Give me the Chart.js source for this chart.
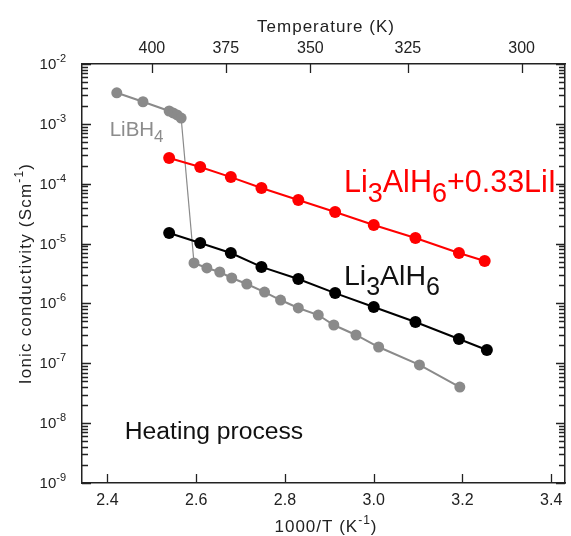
<!DOCTYPE html>
<html>
<head>
<meta charset="utf-8">
<script src="https://cdn.jsdelivr.net/npm/chart.js@4/dist/chart.umd.min.js"></script>
<style>
  html, body { margin: 0; padding: 0; background: #fff; }
  #wrap { width: 571px; height: 536px; }
</style>
</head>
<body>
<div id="wrap"><canvas id="myChart" width="571" height="536"></canvas></div>
<script>
// data (x = 1000/T, y = conductivity in S/cm)
var invT_LiI = [2.539, 2.609, 2.678, 2.747, 2.830, 2.913, 3.000, 3.094, 3.192, 3.250];
var sigma_LiI = [2.69e-4, 1.90e-4, 1.29e-4, 8.5e-5, 5.35e-5, 3.37e-5, 2.04e-5, 1.24e-5, 6.96e-6, 5.1e-6];

var invT_Li3AlH6 = [2.539, 2.609, 2.678, 2.747, 2.830, 2.913, 3.000, 3.094, 3.192, 3.255];
var sigma_Li3AlH6 = [1.50e-5, 1.02e-5, 6.96e-6, 4.07e-6, 2.56e-6, 1.49e-6, 8.7e-7, 4.9e-7, 2.55e-7, 1.67e-7];

var invT_LiBH4 = [2.421, 2.480, 2.539, 2.548, 2.557, 2.566, 2.595, 2.624, 2.653, 2.680, 2.714,
                  2.754, 2.790, 2.830, 2.875, 2.910, 2.960, 3.011, 3.103, 3.194];
var sigma_LiBH4 = [3.3e-3, 2.34e-3, 1.64e-3, 1.52e-3, 1.41e-3, 1.25e-3, 4.74e-6, 3.91e-6, 3.35e-6,
                   2.66e-6, 2.11e-6, 1.55e-6, 1.14e-6, 8.4e-7, 6.4e-7, 4.36e-7, 2.97e-7, 1.87e-7,
                   9.4e-8, 4.0e-8];

var xTicks = [2.4, 2.6, 2.8, 3.0, 3.2, 3.4];
var tempTicks = [400, 375, 350, 325, 300];
var yExponents = [-9, -8, -7, -6, -5, -4, -3, -2];

var X_MIN = 2.3426, X_MAX = 3.431;
var Y_MIN = 1e-9, Y_MAX = 1e-2;
var FONT = '"Liberation Sans", Arial, Helvetica, sans-serif';

function toPoints(xs, ys) {
    return xs.map(function (x, i) { return { x: x, y: ys[i] }; });
}

// draws a run of text pieces, each with its own size and vertical shift
function drawRich(ctx, parts, x, y, align, spacing) {
    ctx.letterSpacing = (spacing || 0) + 'px';
    var total = 0;
    parts.forEach(function (p) {
        ctx.font = p.size + 'px ' + FONT;
        p.w = ctx.measureText(p.t).width;
        total += p.w;
    });
    var cx = align === 'right' ? x - total : (align === 'center' ? x - total / 2 : x);
    ctx.textAlign = 'left';
    parts.forEach(function (p) {
        ctx.font = p.size + 'px ' + FONT;
        ctx.fillText(p.t, cx, y + (p.dy || 0));
        cx += p.w;
    });
    ctx.letterSpacing = '0px';
}

var decorPlugin = {
    id: 'decor',
    afterDraw: function (chart) {
        var ctx = chart.ctx;
        var a = chart.chartArea;
        var xs = chart.scales.x, ys = chart.scales.y;
        ctx.save();
        ctx.strokeStyle = '#222';
        ctx.lineWidth = 1.3;
        ctx.beginPath();
        // bottom ticks
        xTicks.forEach(function (v) {
            var px = Math.round(xs.getPixelForValue(v)) + 0.5;
            ctx.moveTo(px, a.bottom); ctx.lineTo(px, a.bottom - 9);
        });
        // top ticks at temperatures
        tempTicks.forEach(function (T) {
            var px = Math.round(xs.getPixelForValue(1000 / T)) + 0.5;
            ctx.moveTo(px, a.top); ctx.lineTo(px, a.top + 9);
        });
        // left and right log ticks
        for (var d = -9; d <= -2; d++) {
            for (var m = 1; m <= 9; m++) {
                if (d === -2 && m > 1) break;
                var py = Math.round(ys.getPixelForValue(m * Math.pow(10, d))) + 0.5;
                var len = m === 1 ? 9 : 6;
                ctx.moveTo(a.left, py); ctx.lineTo(a.left + len, py);
                ctx.moveTo(a.right, py); ctx.lineTo(a.right - len, py);
            }
        }
        ctx.stroke();

        // y tick labels 10^n
        ctx.fillStyle = '#222';
        ctx.textBaseline = 'alphabetic';
        yExponents.forEach(function (e) {
            var py = ys.getPixelForValue(Math.pow(10, e));
            drawRich(ctx, [
                { t: '10', size: 15 },
                { t: '-' + Math.abs(e), size: 11, dy: -7 }
            ], 66, py + 5, 'right');
        });

        // axis titles with superscripts
        drawRich(ctx, [
            { t: 'Temperature (K)', size: 17 }
        ], 326, 32, 'center', 1);

        drawRich(ctx, [
            { t: '1000/T (K', size: 17 },
            { t: '-1', size: 12, dy: -8 },
            { t: ')', size: 17 }
        ], 326, 532, 'center', 1);

        ctx.save();
        ctx.translate(31, (a.top + a.bottom) / 2);
        ctx.rotate(-Math.PI / 2);
        drawRich(ctx, [
            { t: 'Ionic conductivity (Scm', size: 17 },
            { t: '-1', size: 12, dy: -8 },
            { t: ')', size: 17 }
        ], 0, 0, 'center', 1.2);
        ctx.restore();

        // series labels
        ctx.fillStyle = '#8c8c8c';
        drawRich(ctx, [
            { t: 'LiBH', size: 20.5 },
            { t: '4', size: 17, dy: 6 }
        ], xs.getPixelForValue(2.405), ys.getPixelForValue(Math.pow(10, -3.203)), 'left');

        ctx.fillStyle = '#ff0000';
        drawRich(ctx, [
            { t: 'Li', size: 30.5 },
            { t: '3', size: 27, dy: 10 },
            { t: 'AlH', size: 30.5 },
            { t: '6', size: 27, dy: 10 },
            { t: '+0.33LiI', size: 30.5 }
        ], xs.getPixelForValue(2.933), ys.getPixelForValue(Math.pow(10, -4.138)), 'left');

        ctx.fillStyle = '#111';
        drawRich(ctx, [
            { t: 'Li', size: 28.5 },
            { t: '3', size: 25, dy: 10 },
            { t: 'AlH', size: 28.5 },
            { t: '6', size: 25, dy: 10 }
        ], xs.getPixelForValue(2.933), ys.getPixelForValue(Math.pow(10, -5.692)), 'left');

        drawRich(ctx, [
            { t: 'Heating process', size: 24.7 }
        ], xs.getPixelForValue(2.439), ys.getPixelForValue(Math.pow(10, -8.265)), 'left');

        ctx.restore();
    }
};

var ctx = document.getElementById('myChart').getContext('2d');
var myChart = new Chart(ctx, {
    type: 'scatter',
    data: {
        datasets: [
            {
                label: 'Li3AlH6+0.33LiI',
                data: toPoints(invT_LiI, sigma_LiI),
                showLine: true,
                borderColor: '#ff0000',
                backgroundColor: '#ff0000',
                borderWidth: 2,
                pointRadius: 6,
                pointBorderWidth: 0
            },
            {
                label: 'Li3AlH6',
                data: toPoints(invT_Li3AlH6, sigma_Li3AlH6),
                showLine: true,
                borderColor: '#000000',
                backgroundColor: '#000000',
                borderWidth: 2,
                pointRadius: 6,
                pointBorderWidth: 0
            },
            {
                label: 'LiBH4',
                data: toPoints(invT_LiBH4, sigma_LiBH4),
                showLine: true,
                borderColor: '#8a8a8a',
                backgroundColor: '#8a8a8a',
                borderWidth: 2,
                pointRadius: 5.5,
                pointBorderWidth: 0,
                segment: {
                    // the jump at the phase transition is drawn thinner
                    borderWidth: function (c) {
                        return c.p0.parsed.y / c.p1.parsed.y > 10 ? 1.2 : 2;
                    }
                }
            }
        ]
    },
    plugins: [decorPlugin],
    options: {
        responsive: false,
        animation: false,
        clip: false,
        layout: { padding: 0 },
        plugins: {
            legend: { display: false },
            tooltip: { enabled: false }
        },
        scales: {
            x: {
                type: 'linear',
                position: 'bottom',
                min: X_MIN,
                max: X_MAX,
                afterBuildTicks: function (scale) {
                    scale.ticks = xTicks.map(function (v) { return { value: v }; });
                },
                afterFit: function (scale) { scale.height = 53; },
                grid: { display: false, drawTicks: false },
                border: { display: true, color: '#222', width: 1.5 },
                ticks: {
                    autoSkip: false,
                    maxRotation: 0,
                    padding: 8,
                    color: '#222',
                    font: { family: FONT, size: 16 },
                    callback: function (v) { return Number(v).toFixed(1); }
                }
            },
            x2: {
                type: 'linear',
                position: 'top',
                min: X_MIN,
                max: X_MAX,
                afterBuildTicks: function (scale) {
                    scale.ticks = tempTicks.map(function (T) { return { value: 1000 / T }; });
                },
                afterFit: function (scale) { scale.height = 64; },
                grid: { display: false, drawTicks: false },
                border: { display: true, color: '#222', width: 1.5 },
                ticks: {
                    autoSkip: false,
                    maxRotation: 0,
                    padding: 6,
                    color: '#222',
                    font: { family: FONT, size: 16 },
                    callback: function (v, i) { return String(tempTicks[i]); }
                }
            },
            y: {
                type: 'logarithmic',
                position: 'left',
                min: Y_MIN,
                max: Y_MAX,
                afterFit: function (scale) { scale.width = 82; },
                grid: { display: false, drawTicks: false },
                border: { display: true, color: '#222', width: 1.5 },
                ticks: { display: false }
            },
            y2: {
                type: 'logarithmic',
                position: 'right',
                min: Y_MIN,
                max: Y_MAX,
                afterFit: function (scale) { scale.width = 2; },
                grid: { display: false, drawTicks: false },
                border: { display: true, color: '#222', width: 1.5 },
                ticks: { display: false }
            }
        }
    }
});
</script>
</body>
</html>
